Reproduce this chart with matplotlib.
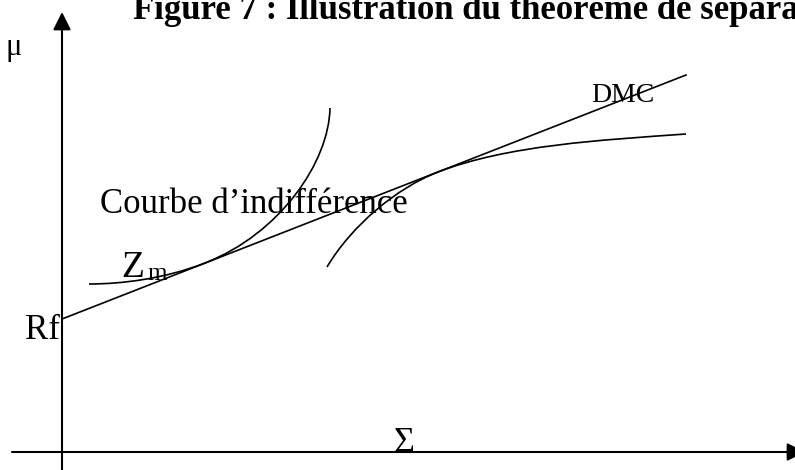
import numpy as np
import matplotlib.pyplot as plt
from matplotlib.path import Path
from matplotlib.patches import PathPatch

plt.rcParams['font.family'] = ['Liberation Serif', 'DejaVu Serif']

# taux sans risque et extremite de la droite de marche des capitaux
Rf = np.array([0, 133])
DMC_end = np.array([624, 377])

# points de controle (Bezier) : depart, ctrl, ctrl, tangence, ctrl, ctrl, fin
indiff = np.array([[27, 168], [60, 168], [103, 173.3], [143, 189],
                   [218, 218.2], [267, 290], [268, 344]])
frontier = np.array([[265, 185], [290, 227], [335, 264], [375, 279.6],
                     [445, 307], [540, 312], [624, 318]])

codes = [Path.MOVETO] + [Path.CURVE4] * 6

fig = plt.figure(figsize=(7.95, 4.70), dpi=100)
ax = fig.add_axes([0, 0, 1, 1])
ax.set_xlim(-62, 733)
ax.set_ylim(-18, 452)
ax.axis('off')

# axes avec fleches
arrow = dict(arrowstyle='-|>', mutation_scale=27, lw=1.5, color='k',
             shrinkA=0, shrinkB=0)
ax.annotate('', xy=(0, 440), xytext=(0, -18), arrowprops=arrow,
            annotation_clip=False)
ax.annotate('', xy=(743, 0), xytext=(-50, 0), arrowprops=arrow,
            annotation_clip=False)

# DMC
ax.plot([Rf[0], DMC_end[0]], [Rf[1], DMC_end[1]], color='k', lw=1.2)

ax.add_patch(PathPatch(Path(indiff, codes), fc='none', ec='k', lw=1.2))
ax.add_patch(PathPatch(Path(frontier, codes), fc='none', ec='k', lw=1.2))

ax.text(71, 433, 'Figure 7 : Illustration du théorème de séparation',
        fontsize=25, fontweight='bold', va='baseline', ha='left')
ax.text(-48, 404, 'μ', fontsize=22, ha='center', va='center')
ax.text(-2, 113, 'Rf', fontsize=25, ha='right', va='baseline')
ax.text(38, 239, 'Courbe d’indifférence', fontsize=25, va='baseline')
ax.text(59, 175, 'Z', fontsize=27, va='baseline')
ax.text(85, 172, 'm', fontsize=18, va='baseline')
ax.text(529, 350, 'DMC', fontsize=20, va='baseline')
ax.text(342, 0, 'Σ', fontsize=26, ha='center', va='baseline')

plt.savefig('out.png', dpi=100)
